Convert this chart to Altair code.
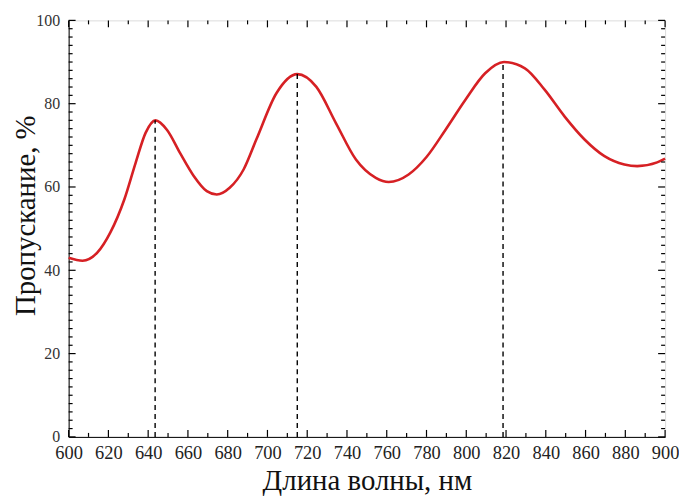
import altair as alt
import pandas as pd

wavelength = [600, 607, 614.5, 621, 628, 633.7, 638.7, 643.7, 649.5, 656, 663, 669.5, 674.5, 681, 688, 694.5,
              704.5, 715, 724.5, 734.5, 744.5, 754.5, 761, 771, 780, 789.5, 799.5, 809.5, 819, 829.5,
              839.5, 849.5, 859.5, 869.5, 879.5, 886, 896, 900]
transmission = [43.0, 42.3, 44.3, 49.1, 57, 65.8, 73, 76, 73.7, 68.2, 62.6, 59, 58.2, 59.8, 64.2, 71.5,
                82.5, 87.1, 84.1, 75.3, 66.6, 62.2, 61.2, 63, 67.2, 73.7, 80.9, 87.3, 90, 88.5,
                83.3, 76.9, 71.4, 67.4, 65.4, 65, 65.9, 66.8]

peak_x = [643.5, 715, 818.5]
peak_y = [76, 87.1, 90]

x_major = list(range(600, 901, 20))
x_minor = list(range(610, 900, 20))
y_major = list(range(0, 101, 20))
y_minor = [v for v in range(2, 100, 2) if v % 20 != 0]

W, H = 600, 419
FONT = "Liberation Serif"

xs = alt.Scale(domain=[600, 900], nice=False, zero=False)
ys = alt.Scale(domain=[0, 100], nice=False)

x_axis = alt.Axis(title="Длина волны, нм", values=x_major, ticks=False, grid=False,
                  labelFontSize=18.5, labelFont=FONT, labelColor="#222", labelPadding=7,
                  labelOverlap=False,
                  titleFont=FONT, titleFontSize=29, titleFontWeight="normal", titleColor="#111",
                  titlePadding=4, domainColor="#000", labelFlush=False)
y_axis = alt.Axis(title="Пропускание, %", values=y_major, ticks=False, grid=False,
                  labelFontSize=16, labelFont=FONT, labelColor="#333", labelPadding=9,
                  labelOverlap=False,
                  titleFont=FONT, titleFontSize=29, titleFontWeight="normal", titleColor="#111",
                  titleX=-28, titleY=196, domainColor="#000", labelFlush=False)

curve_df = pd.DataFrame({"x": wavelength, "y": transmission})
peaks_df = pd.DataFrame({"x": peak_x, "y": peak_y, "y0": [0] * 3})

curve = alt.Chart(curve_df).mark_line(color="#d62024", strokeWidth=2.6, interpolate="monotone").encode(
    x=alt.X("x:Q", scale=xs, axis=x_axis),
    y=alt.Y("y:Q", scale=ys, axis=y_axis),
)

dashes = alt.Chart(peaks_df).mark_rule(color="#000", strokeWidth=1.4, strokeDash=[5, 4]).encode(
    x=alt.X("x:Q", scale=xs, axis=x_axis), y=alt.Y("y0:Q", scale=ys, axis=y_axis), y2="y:Q")


def xticks(vals, length):
    df = pd.DataFrame({"v": vals})
    b = alt.Chart(df).mark_rule(color="#000", strokeWidth=1.2).encode(
        x=alt.X("v:Q", scale=xs, axis=x_axis), y=alt.value(H), y2=alt.value(H - length))
    t = alt.Chart(df).mark_rule(color="#000", strokeWidth=1.2).encode(
        x=alt.X("v:Q", scale=xs, axis=x_axis), y=alt.value(0), y2=alt.value(length))
    return [b, t]


def yticks(vals, length):
    df = pd.DataFrame({"v": vals})
    l = alt.Chart(df).mark_rule(color="#000", strokeWidth=1.2).encode(
        y=alt.Y("v:Q", scale=ys, axis=y_axis), x=alt.value(0), x2=alt.value(length))
    r = alt.Chart(df).mark_rule(color="#000", strokeWidth=1.2).encode(
        y=alt.Y("v:Q", scale=ys, axis=y_axis), x=alt.value(W), x2=alt.value(W - length))
    return [l, r]


layers = [curve, dashes] + xticks(x_major, 7) + xticks(x_minor, 4) + yticks(y_major, 7) + yticks(y_minor, 4)

chart = alt.layer(*layers).properties(
    width=W, height=H,
    autosize=alt.AutoSizeParams(type="none"),
    padding={"left": 61, "top": 11, "right": 14, "bottom": 58},
).configure_view(stroke="#000", strokeWidth=1.5).configure(background="white")

chart.save("out.html", embed_options={"renderer": "svg", "actions": False})
